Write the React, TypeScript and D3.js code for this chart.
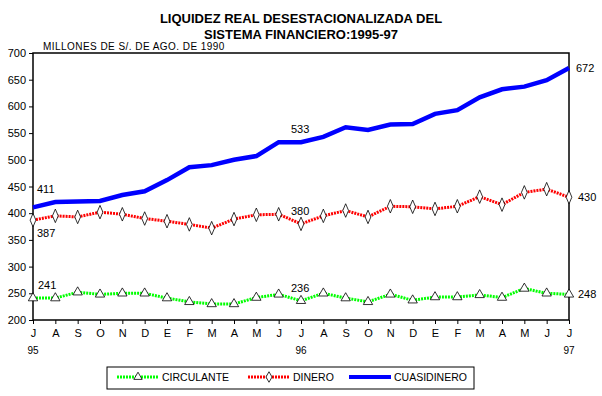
import React, {useEffect, useRef} from "react";
import * as d3 from "d3";

const months = ["J", "A", "S", "O", "N", "D", "E", "F", "M", "A", "M", "J", "J", "A", "S", "O", "N", "D", "E", "F", "M", "A", "M", "J", "J"];
const years: [number, string][] = [[0, "95"], [12, "96"], [24, "97"]];
const circulante = [241, 241, 252, 248, 250, 250, 241, 234, 230, 230, 242, 248, 236, 250, 241, 234, 248, 237, 243, 243, 247, 242, 259, 250, 248];
const dinero = [387, 395, 393, 402, 398, 390, 385, 379, 372, 389, 397, 398, 380, 395, 405, 393, 413, 412, 408, 413, 431, 416, 439, 445, 430];
const cuasidinero = [411, 421, 422, 423, 434, 441, 462, 486, 490, 500, 507, 533, 533, 543, 561, 556, 566, 567, 586, 593, 617, 632, 637, 649, 672];
const yTicks = [200, 250, 300, 350, 400, 450, 500, 550, 600, 650, 700];

const App: React.FC = () => {
    const svgRef = useRef<SVGSVGElement | null>(null);

    useEffect(() => {
        if (!svgRef.current) return;
        const svg = d3.select(svgRef.current);
        svg.selectAll("*").remove();
        const font = "Arial, 'Liberation Sans', sans-serif";

        const x = d3.scaleLinear().domain([0, months.length - 1]).range([33, 569]);
        const y = d3.scaleLinear().domain([200, 700]).range([320, 53]);

        // titles
        svg.append("text").attr("x", 301).attr("y", 23).attr("text-anchor", "middle")
            .style("font", `bold 13px ${font}`).text("LIQUIDEZ REAL DESESTACIONALIZADA DEL");
        svg.append("text").attr("x", 301).attr("y", 39).attr("text-anchor", "middle")
            .style("font", `bold 13px ${font}`).text("SISTEMA FINANCIERO:1995-97");
        svg.append("text").attr("x", 43).attr("y", 50)
            .style("font", `10px ${font}`).style("letter-spacing", "0.45px")
            .text("MILLONES DE S/. DE AGO. DE 1990");

        // frame
        svg.append("rect").attr("x", x(0)).attr("y", y(700)).attr("width", x(24) - x(0)).attr("height", y(200) - y(700))
            .attr("fill", "none").attr("stroke", "#000").attr("stroke-width", 1.5);

        // y axis
        const ya = svg.append("g").attr("transform", `translate(${x(0)},0)`)
            .call(d3.axisLeft(y).tickValues(yTicks).tickSize(4).tickFormat(d3.format("d")));
        ya.select(".domain").remove();
        ya.selectAll("text").style("font", `11px ${font}`).attr("fill", "#000");

        // x axis
        const xa = svg.append("g").attr("transform", `translate(0,${y(200)})`)
            .call(d3.axisBottom(x).tickValues(d3.range(months.length)).tickSize(4).tickFormat((d) => months[d as number]));
        xa.select(".domain").remove();
        xa.selectAll("text").style("font", `11px ${font}`).attr("fill", "#000").attr("dy", "0.9em");
        years.forEach(([i, t]) => {
            svg.append("text").attr("x", x(i)).attr("y", 354).attr("text-anchor", "middle")
                .style("font", `10px ${font}`).text(t);
        });

        const line = d3.line<number>().x((_, i) => x(i)).y(d => y(d));

        // cuasidinero
        svg.append("path").datum(cuasidinero).attr("d", line).attr("fill", "none")
            .attr("stroke", "#0000ff").attr("stroke-width", 4.5);

        // dinero
        svg.append("path").datum(dinero).attr("d", line).attr("fill", "none")
            .attr("stroke", "#ff0000").attr("stroke-width", 3).attr("stroke-dasharray", "2,1");
        svg.append("g").selectAll("path").data(dinero).enter().append("path")
            .attr("d", d3.symbol(d3.symbolDiamond, 40)())
            .attr("transform", (d, i) => `translate(${x(i)},${y(d)}) scale(0.85,1.15)`)
            .attr("fill", "#fff").attr("stroke", "#000").attr("stroke-width", 0.8);

        // circulante
        svg.append("path").datum(circulante).attr("d", line).attr("fill", "none")
            .attr("stroke", "#00ff00").attr("stroke-width", 3).attr("stroke-dasharray", "2,1");
        svg.append("g").selectAll("path").data(circulante).enter().append("path")
            .attr("d", d3.symbol(d3.symbolTriangle, 38)())
            .attr("transform", (d, i) => `translate(${x(i)},${y(d)})`)
            .attr("fill", "#fff").attr("stroke", "#000").attr("stroke-width", 0.8);

        // value labels
        const lbl = (i: number, v: number, dx: number, dy: number) =>
            svg.append("text").attr("x", x(i) + dx).attr("y", y(v) + dy)
                .style("font", `11px ${font}`).text(String(v));
        lbl(0, cuasidinero[0], 4, -14);
        lbl(0, dinero[0], 4, 17);
        lbl(0, circulante[0], 5, -9);
        lbl(12, cuasidinero[12], -10, -9);
        lbl(12, dinero[12], -10, -9);
        lbl(12, circulante[12], -10, -9);
        lbl(24, cuasidinero[24], 7, 4);
        lbl(24, dinero[24], 9, 4);
        lbl(24, circulante[24], 9, 4);

        // legend
        svg.append("rect").attr("x", 107).attr("y", 367).attr("width", 367).attr("height", 22)
            .attr("fill", "none").attr("stroke", "#000").attr("stroke-width", 1);
        const items: [string, string, string][] = [["CIRCULANTE", "#00ff00", "tri"], ["DINERO", "#ff0000", "dia"], ["CUASIDINERO", "#0000ff", "none"]];
        const lx = [117, 248, 349];
        items.forEach(([name, col, m], k) => {
            const g = svg.append("g");
            g.append("line").attr("x1", lx[k]).attr("x2", lx[k] + 42).attr("y1", 377).attr("y2", 377)
                .attr("stroke", col).attr("stroke-width", m === "none" ? 4 : 3)
                .attr("stroke-dasharray", m === "none" ? null : "2,1");
            if (m === "tri") {
                g.append("path").attr("d", d3.symbol(d3.symbolTriangle, 30)())
                    .attr("transform", `translate(${lx[k] + 21},377)`)
                    .attr("fill", "#fff").attr("stroke", "#000").attr("stroke-width", 0.8);
            } else if (m === "dia") {
                g.append("path").attr("d", d3.symbol(d3.symbolDiamond, 32)())
                    .attr("transform", `translate(${lx[k] + 21},377)`)
                    .attr("fill", "#fff").attr("stroke", "#000").attr("stroke-width", 0.8);
            }
            g.append("text").attr("x", lx[k] + 45).attr("y", 381)
                .style("font", `10.5px ${font}`).text(name);
        });
    }, []);

    return (
        <svg ref={svgRef} width={602} height={396}
             style={{position: "absolute", left: 0, top: 0, background: "#fff"}}/>
    );
};

export default App;
